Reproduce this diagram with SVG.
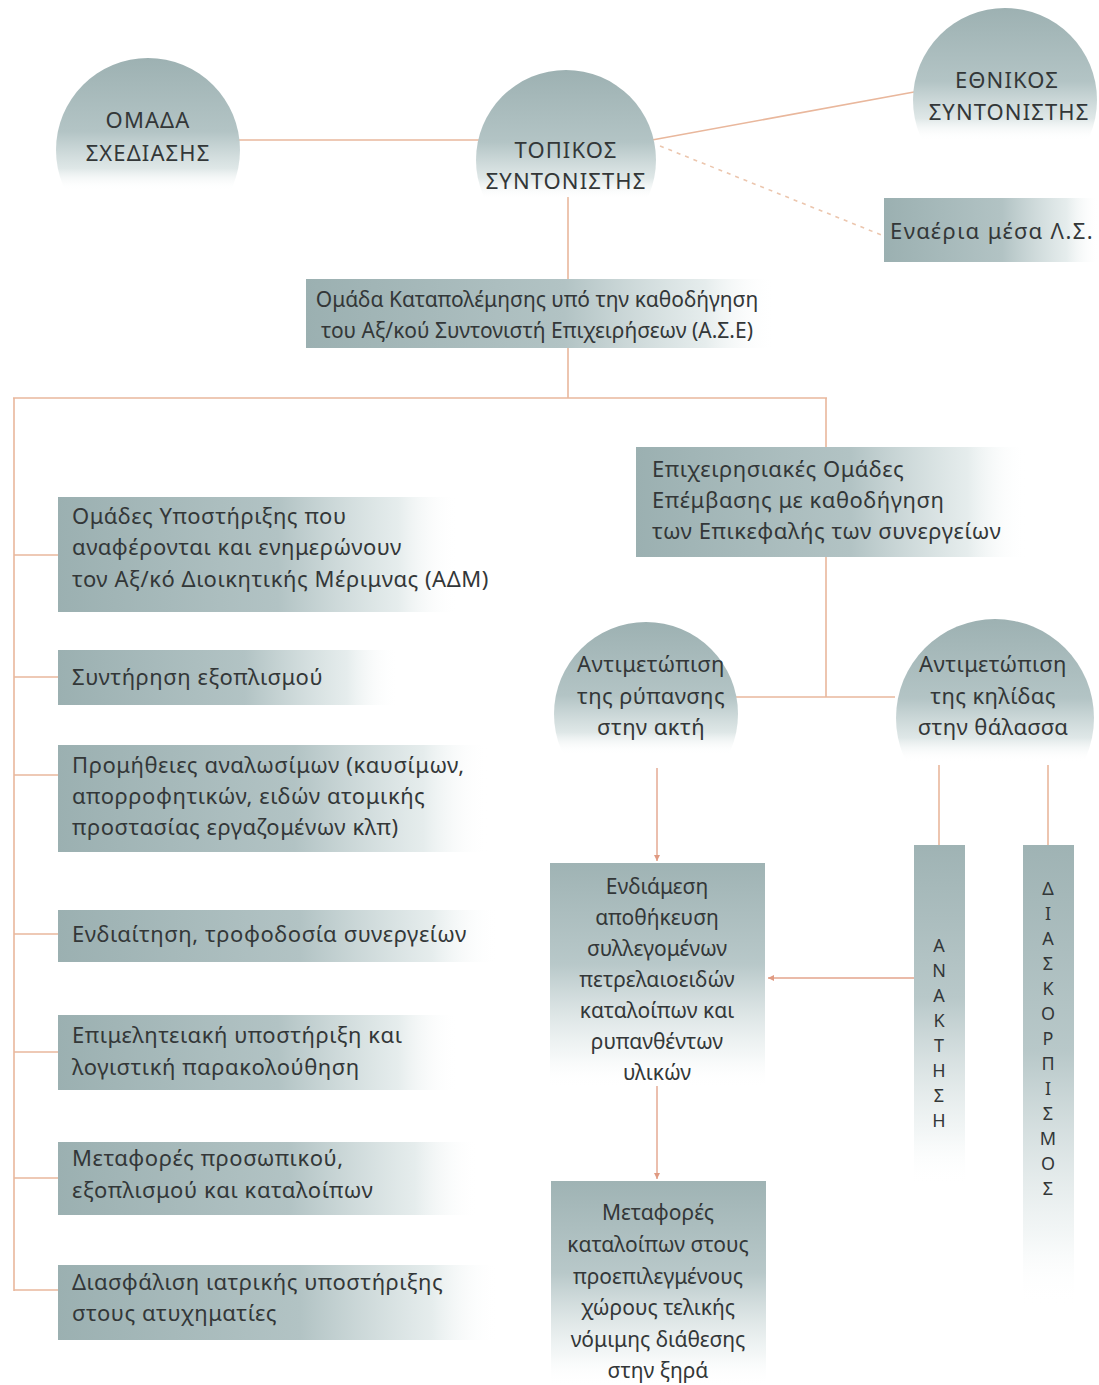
<svg xmlns="http://www.w3.org/2000/svg" width="1099" height="1385" viewBox="0 0 1099 1385">
<defs>
<style>
.t{font-family:"Noto Sans","DejaVu Sans","Liberation Sans",sans-serif;font-size:21px;fill:#333738}
.c{text-anchor:middle}
.cap{font-size:22px;letter-spacing:1.1px}
.lb{font-size:22px;letter-spacing:0.55px}
.dm{font-size:22px;letter-spacing:0.4px}
.vl{font-size:18px}
.ln{stroke:#e9b79c;stroke-width:1.6;fill:none}
.ar{stroke:#e3a48c;stroke-width:1.4;fill:none}
.ds{stroke:#ecc6ae;stroke-width:1.6;fill:none;stroke-dasharray:4 5}
</style>
<linearGradient id="hg" x1="0" y1="0" x2="1" y2="0">
<stop offset="0" stop-color="#9bb0b1"/>
<stop offset="0.55" stop-color="#b2c3c4"/>
<stop offset="0.85" stop-color="#dfe8e8" stop-opacity="0.8"/>
<stop offset="1" stop-color="#ffffff" stop-opacity="0"/>
</linearGradient>
<linearGradient id="vg" x1="0" y1="0" x2="0" y2="1">
<stop offset="0" stop-color="#9fb3b4"/>
<stop offset="0.45" stop-color="#b8c8c9"/>
<stop offset="0.85" stop-color="#eef3f3" stop-opacity="0.7"/>
<stop offset="1" stop-color="#ffffff" stop-opacity="0"/>
</linearGradient>
<linearGradient id="dg" x1="0" y1="0" x2="0" y2="1">
<stop offset="0" stop-color="#9db1b2"/>
<stop offset="0.4" stop-color="#b3c4c5"/>
<stop offset="0.6" stop-color="#d9e3e3" stop-opacity="0.85"/>
<stop offset="0.72" stop-color="#ffffff" stop-opacity="0"/>
</linearGradient>
<marker id="ah" markerUnits="userSpaceOnUse" markerWidth="7" markerHeight="7" refX="6" refY="3.5" orient="auto">
<path d="M0,0.5 L6,3.5 L0,6.5 z" fill="#e09a82"/>
</marker>
</defs>
<rect width="1099" height="1385" fill="#ffffff"/>

<g id="connectors">
<line class="ln" x1="236" y1="140" x2="480" y2="140"/>
<line class="ln" x1="652" y1="140" x2="914" y2="92"/>
<line class="ds" x1="660" y1="146" x2="884" y2="236"/>
<line class="ln" x1="568" y1="197" x2="568" y2="283"/>
<line class="ln" x1="568" y1="348" x2="568" y2="398"/>
<line class="ln" x1="13" y1="398" x2="827" y2="398"/>
<line class="ln" x1="14" y1="398" x2="14" y2="1291"/>
<line class="ln" x1="14" y1="555" x2="58" y2="555"/>
<line class="ln" x1="14" y1="677" x2="58" y2="677"/>
<line class="ln" x1="14" y1="775" x2="58" y2="775"/>
<line class="ln" x1="14" y1="934" x2="58" y2="934"/>
<line class="ln" x1="14" y1="1052" x2="58" y2="1052"/>
<line class="ln" x1="14" y1="1178" x2="58" y2="1178"/>
<line class="ln" x1="14" y1="1290" x2="58" y2="1290"/>
<line class="ln" x1="826" y1="398" x2="826" y2="447"/>
<line class="ln" x1="826" y1="557" x2="826" y2="697"/>
<line class="ln" x1="736" y1="697" x2="895" y2="697"/>
<line class="ln" x1="939" y1="765" x2="939" y2="845"/>
<line class="ln" x1="1048" y1="765" x2="1048" y2="845"/>
<line class="ar" x1="657" y1="768" x2="657" y2="861" marker-end="url(#ah)"/>
<line class="ar" x1="914" y1="978" x2="768" y2="978" marker-end="url(#ah)"/>
<line class="ar" x1="657" y1="1086" x2="657" y2="1179" marker-end="url(#ah)"/>
</g>

<g id="omada-sxediasis">
<circle cx="148" cy="150" r="92" fill="url(#dg)"/>
<text class="t c cap" x="148" y="128">ΟΜΑΔΑ</text>
<text class="t c cap" x="148" y="161">ΣΧΕΔΙΑΣΗΣ</text>
</g>

<g id="topikos">
<circle cx="566" cy="160" r="90" fill="url(#dg)"/>
<text class="t c cap" x="566" y="158">ΤΟΠΙΚΟΣ</text>
<text class="t c cap" x="566" y="189">ΣΥΝΤΟΝΙΣΤΗΣ</text>
</g>

<g id="ethnikos">
<circle cx="1005" cy="100" r="92" fill="url(#dg)"/>
<text class="t c cap" x="1007" y="88">ΕΘΝΙΚΟΣ</text>
<text class="t c cap" x="1009" y="120">ΣΥΝΤΟΝΙΣΤΗΣ</text>
</g>

<g id="enaeria">
<rect x="884" y="198" width="215" height="64" fill="url(#hg)"/>
<text class="t" x="890" y="239" style="font-size:22px;letter-spacing:1.4px">Εναέρια μέσα Λ.Σ.</text>
</g>

<g id="omada-katapolemisis">
<rect x="306" y="279" width="470" height="69" fill="url(#hg)"/>
<text class="t c" x="537" y="307">Ομάδα Καταπολέμησης υπό την καθοδήγηση</text>
<text class="t c" x="537" y="338">του Αξ/κού Συντονιστή Επιχειρήσεων (Α.Σ.Ε)</text>
</g>

<g id="omades-ypostirixis">
<rect x="58" y="497" width="400" height="115" fill="url(#hg)"/>
<text class="t lb" x="72" y="524">Ομάδες Υποστήριξης που</text>
<text class="t lb" x="72" y="555">αναφέρονται και ενημερώνουν</text>
<text class="t lb" x="72" y="587">τον Αξ/κό Διοικητικής Μέριμνας (ΑΔΜ)</text>
</g>

<g id="syntirisi">
<rect x="58" y="650" width="340" height="55" fill="url(#hg)"/>
<text class="t lb" x="72" y="685">Συντήρηση εξοπλισμού</text>
</g>

<g id="promitheies">
<rect x="58" y="745" width="430" height="107" fill="url(#hg)"/>
<text class="t lb" x="72" y="773">Προμήθειες αναλωσίμων (καυσίμων,</text>
<text class="t lb" x="72" y="804">απορροφητικών, ειδών ατομικής</text>
<text class="t lb" x="72" y="835">προστασίας εργαζομένων κλπ)</text>
</g>

<g id="endiaitisi">
<rect x="58" y="910" width="440" height="52" fill="url(#hg)"/>
<text class="t lb" x="72" y="942">Ενδιαίτηση, τροφοδοσία συνεργείων</text>
</g>

<g id="epimelitiaki">
<rect x="58" y="1015" width="400" height="75" fill="url(#hg)"/>
<text class="t lb" x="72" y="1043">Επιμελητειακή υποστήριξη και</text>
<text class="t lb" x="72" y="1075">λογιστική παρακολούθηση</text>
</g>

<g id="metafores-prosopikou">
<rect x="58" y="1142" width="420" height="73" fill="url(#hg)"/>
<text class="t lb" x="72" y="1166">Μεταφορές προσωπικού,</text>
<text class="t lb" x="72" y="1198">εξοπλισμού και καταλοίπων</text>
</g>

<g id="diasfalisi">
<rect x="58" y="1265" width="440" height="75" fill="url(#hg)"/>
<text class="t lb" x="72" y="1290">Διασφάλιση ιατρικής υποστήριξης</text>
<text class="t lb" x="72" y="1321">στους ατυχηματίες</text>
</g>

<g id="epixeirisiakes">
<rect x="636" y="447" width="390" height="110" fill="url(#hg)"/>
<text class="t lb" x="652" y="477">Επιχειρησιακές Ομάδες</text>
<text class="t lb" x="652" y="508">Επέμβασης με καθοδήγηση</text>
<text class="t lb" x="652" y="539">των Επικεφαλής των συνεργείων</text>
</g>

<g id="ryp-akti">
<circle cx="646" cy="714" r="92" fill="url(#dg)"/>
<text class="t c dm" x="651" y="672">Αντιμετώπιση</text>
<text class="t c dm" x="651" y="704">της ρύπανσης</text>
<text class="t c dm" x="651" y="735">στην ακτή</text>
</g>

<g id="kilida-thalassa">
<circle cx="995" cy="718" r="99" fill="url(#dg)"/>
<text class="t c dm" x="993" y="672">Αντιμετώπιση</text>
<text class="t c dm" x="993" y="704">της κηλίδας</text>
<text class="t c dm" x="993" y="735">στην θάλασσα</text>
</g>

<g id="endiamesi">
<rect x="550" y="863" width="215" height="225" fill="url(#vg)"/>
<text class="t c" x="657" y="894">Ενδιάμεση</text>
<text class="t c" x="657" y="925">αποθήκευση</text>
<text class="t c" x="657" y="956">συλλεγομένων</text>
<text class="t c" x="657" y="987">πετρελαιοειδών</text>
<text class="t c" x="657" y="1018">καταλοίπων και</text>
<text class="t c" x="657" y="1049">ρυπανθέντων</text>
<text class="t c" x="657" y="1080">υλικών</text>
</g>

<g id="metafores-kataloipon">
<rect x="551" y="1181" width="215" height="204" fill="url(#vg)"/>
<text class="t c" x="658" y="1220">Μεταφορές</text>
<text class="t c" x="658" y="1252">καταλοίπων στους</text>
<text class="t c" x="658" y="1284">προεπιλεγμένους</text>
<text class="t c" x="658" y="1315">χώρους τελικής</text>
<text class="t c" x="658" y="1347">νόμιμης διάθεσης</text>
<text class="t c" x="658" y="1378">στην ξηρά</text>
</g>

<g id="anaktisi">
<rect x="914" y="845" width="51" height="340" fill="url(#vg)"/>
<text class="t c vl" x="939" y="952">Α</text>
<text class="t c vl" x="939" y="977">Ν</text>
<text class="t c vl" x="939" y="1002">Α</text>
<text class="t c vl" x="939" y="1027">Κ</text>
<text class="t c vl" x="939" y="1052">Τ</text>
<text class="t c vl" x="939" y="1077">Η</text>
<text class="t c vl" x="939" y="1102">Σ</text>
<text class="t c vl" x="939" y="1127">Η</text>
</g>

<g id="diaskorpismos">
<rect x="1023" y="845" width="51" height="460" fill="url(#vg)"/>
<text class="t c vl" x="1048" y="895">Δ</text>
<text class="t c vl" x="1048" y="920">Ι</text>
<text class="t c vl" x="1048" y="945">Α</text>
<text class="t c vl" x="1048" y="970">Σ</text>
<text class="t c vl" x="1048" y="995">Κ</text>
<text class="t c vl" x="1048" y="1020">Ο</text>
<text class="t c vl" x="1048" y="1045">Ρ</text>
<text class="t c vl" x="1048" y="1070">Π</text>
<text class="t c vl" x="1048" y="1095">Ι</text>
<text class="t c vl" x="1048" y="1120">Σ</text>
<text class="t c vl" x="1048" y="1145">Μ</text>
<text class="t c vl" x="1048" y="1170">Ο</text>
<text class="t c vl" x="1048" y="1195">Σ</text>
</g>
</svg>
